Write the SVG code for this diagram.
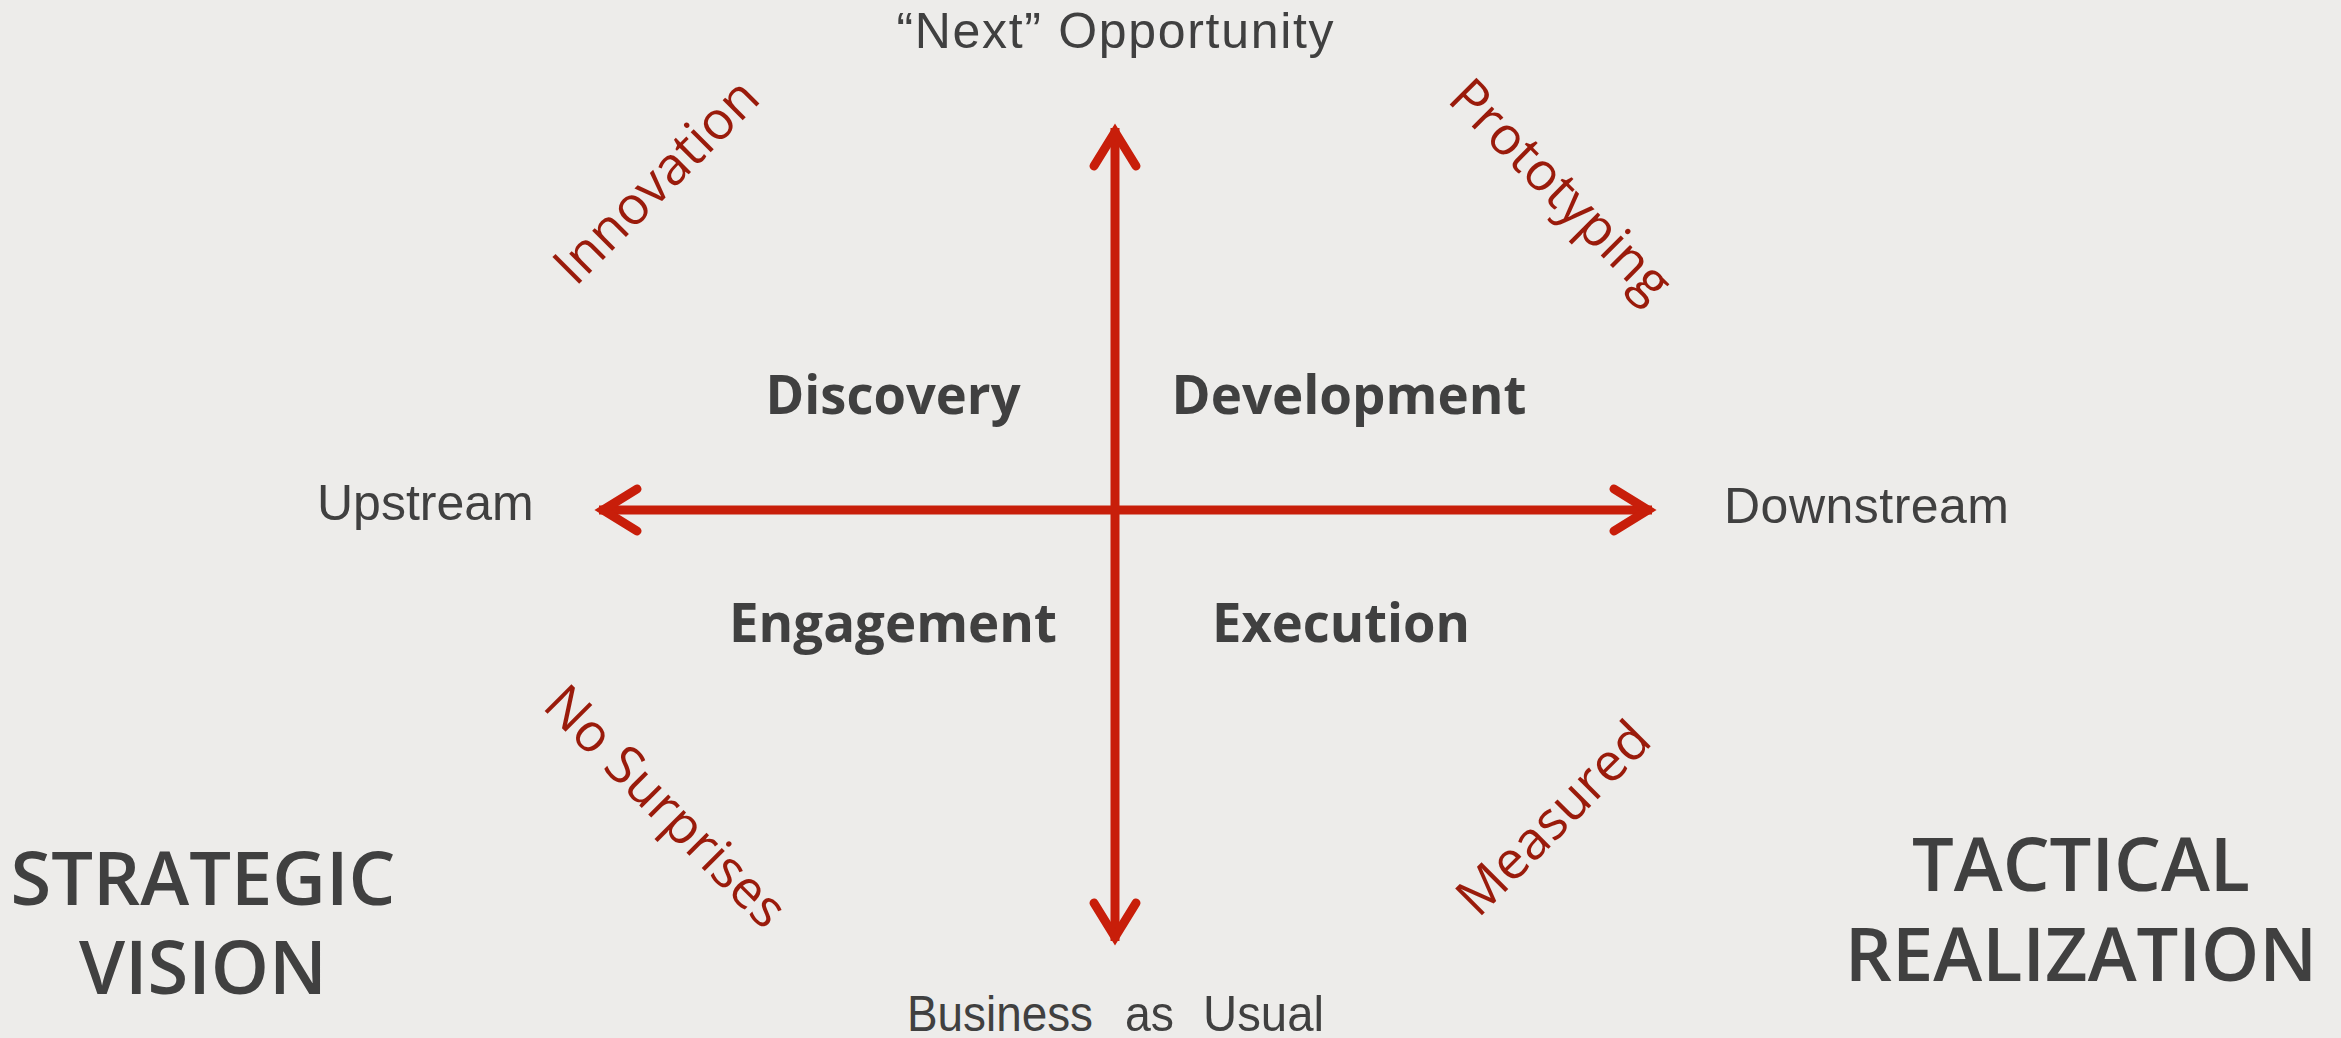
<svg xmlns="http://www.w3.org/2000/svg" width="2341" height="1038" viewBox="0 0 2341 1038">
<style>
.axis{font-family:"Liberation Sans",Arial,sans-serif;font-size:50px;fill:#404040}
.quad{font-family:"Open Sans","Noto Sans",sans-serif;font-weight:700;font-size:54px;fill:#404040;text-anchor:middle}
.big{font-family:"Open Sans","Noto Sans",sans-serif;font-weight:600;font-size:74px;fill:#404040;text-anchor:middle}
.diag{font-family:"Open Sans","Noto Sans",sans-serif;font-size:53px;fill:#9A1B0B;text-anchor:middle}
.ln{stroke:#C81E0A;stroke-width:9;fill:none;stroke-linecap:butt}
.hd{stroke:#C81E0A;stroke-width:9;fill:none;stroke-linecap:round;stroke-linejoin:miter;stroke-miterlimit:10}
</style>
<rect width="2341" height="1038" fill="#EDECEA"/>
<g id="connectors">
  <line class="ln" x1="1115" y1="128" x2="1115" y2="941"/>
  <line class="ln" x1="599" y1="510" x2="1652" y2="510"/>
  <polyline class="hd" points="1094,166 1115,132 1136,166"/>
  <polyline class="hd" points="1094,903 1115,937 1136,903"/>
  <polyline class="hd" points="637,489 603,510 637,531"/>
  <polyline class="hd" points="1614,489 1648,510 1614,531"/>
</g>
<g id="next-opportunity"><text class="axis" x="1115" y="48" text-anchor="middle" textLength="437" lengthAdjust="spacing">“Next” Opportunity</text></g>
<g id="business-as-usual">
  <text class="axis" x="907" y="1031" font-size="49" textLength="186" lengthAdjust="spacingAndGlyphs">Business</text>
  <text class="axis" x="1125" y="1031" font-size="49" textLength="49" lengthAdjust="spacingAndGlyphs">as</text>
  <text class="axis" x="1203" y="1031" font-size="49" textLength="121" lengthAdjust="spacingAndGlyphs">Usual</text>
</g>
<g id="upstream"><text class="axis" x="317" y="520">Upstream</text></g>
<g id="downstream"><text class="axis" x="1724" y="523" textLength="285" lengthAdjust="spacing">Downstream</text></g>
<g id="discovery"><text class="quad" x="893" y="414" textLength="255" lengthAdjust="spacingAndGlyphs">Discovery</text></g>
<g id="development"><text class="quad" x="1349" y="414" textLength="355" lengthAdjust="spacingAndGlyphs">Development</text></g>
<g id="engagement"><text class="quad" x="893" y="642" textLength="328" lengthAdjust="spacingAndGlyphs">Engagement</text></g>
<g id="execution"><text class="quad" x="1341" y="642" textLength="258" lengthAdjust="spacingAndGlyphs">Execution</text></g>
<g id="innovation"><text class="diag" transform="translate(657,182) rotate(-45)" y="17">Innovation</text></g>
<g id="prototyping"><text class="diag" transform="translate(1558,193) rotate(45)" y="14" font-size="56">Prototyping</text></g>
<g id="no-surprises"><text class="diag" transform="translate(662,810) rotate(45)" y="13">No Surprises</text></g>
<g id="measured"><text class="diag" transform="translate(1554,819) rotate(-45)" y="17">Measured</text></g>
<g id="strategic-vision"><text class="big" x="203" y="905" font-size="73">STRATEGIC</text><text class="big" x="203" y="994" font-size="73">VISION</text></g>
<g id="tactical-realization"><text class="big" x="2081" y="891">TACTICAL</text><text class="big" x="2081" y="981">REALIZATION</text></g>
</svg>
